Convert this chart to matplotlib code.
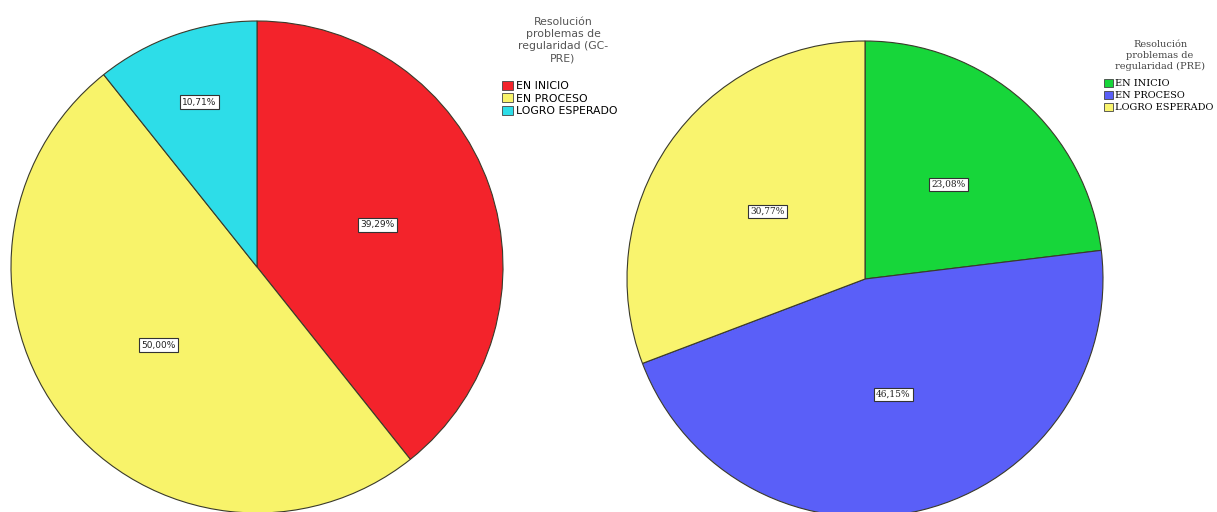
import numpy as np
import matplotlib
matplotlib.use('Agg')
from matplotlib import pyplot as plt
from matplotlib.patches import Patch

# DATA
categories_gc = ['EN INICIO', 'EN PROCESO', 'LOGRO ESPERADO']
values_gc = [39.29, 50.00, 10.71]
colors_gc = ['#f3232b', '#f8f36a', '#2ddde8']

categories_pre = ['EN INICIO', 'EN PROCESO', 'LOGRO ESPERADO']
values_pre = [23.08, 46.15, 30.77]
colors_pre = ['#17d63a', '#5a5ff8', '#f9f46e']

title_gc = 'Resolución\nproblemas de\nregularidad (GC-\nPRE)'
title_pre = 'Resolución\nproblemas de\nregularidad (PRE)'

W, H = 1217, 512
fig = plt.figure(figsize=(W / 100, H / 100), dpi=100)


def draw_pie(ax, values, colors, label_dist, family, size):
    wedges, _ = ax.pie(values, colors=colors, startangle=90, counterclock=False,
                       wedgeprops=dict(edgecolor='#3a3a2a', linewidth=0.8))
    for w, v, d in zip(wedges, values, label_dist):
        ang = np.deg2rad((w.theta1 + w.theta2) / 2)
        ax.text(d * np.cos(ang), d * np.sin(ang),
                '{:.2f}%'.format(v).replace('.', ','),
                ha='center', va='center', fontsize=size, family=family,
                color='#222222',
                bbox=dict(boxstyle='square,pad=0.25', facecolor='white',
                          edgecolor='#333333', linewidth=0.8))
    ax.set_xlim(-1, 1)
    ax.set_ylim(-1, 1)
    ax.set_aspect('auto')
    ax.axis('off')


def axes_for(cx, cy, r):
    # pixel centre / radius -> figure fraction
    return fig.add_axes([(cx - r) / W, (H - cy - r) / H, 2 * r / W, 2 * r / H])


# LEFT PIE
ax1 = axes_for(257, 267, 246)
draw_pie(ax1, values_gc, colors_gc, [0.52, 0.51, 0.71], 'DejaVu Sans', 6.5)

# RIGHT PIE
ax2 = axes_for(865, 279, 238)
draw_pie(ax2, values_pre, colors_pre, [0.53, 0.50, 0.50], 'DejaVu Serif', 6.5)

# LEGENDS (title drawn separately so the gap to the entries matches)
fig.text(563 / W, 1 - 17 / H, title_gc, ha='center', va='top', fontsize=7.8,
         family='DejaVu Sans', color='#555555', linespacing=1.28)
h1 = [Patch(facecolor=c, edgecolor='#444444', linewidth=0.6) for c in colors_gc]
leg1 = fig.legend(h1, categories_gc, loc='upper left',
                  bbox_to_anchor=(502 / W, 1 - 81 / H), frameon=False,
                  prop=dict(family='DejaVu Sans', size=7.8),
                  handlelength=1.0, handleheight=0.9, handletextpad=0.25,
                  labelspacing=0.2, borderpad=0, borderaxespad=0)

fig.text(1160 / W, 1 - 40 / H, title_pre, ha='center', va='top', fontsize=7,
         family='DejaVu Serif', color='#444444', linespacing=1.3)
h2 = [Patch(facecolor=c, edgecolor='#444444', linewidth=0.6) for c in colors_pre]
leg2 = fig.legend(h2, categories_pre, loc='upper left',
                  bbox_to_anchor=(1104 / W, 1 - 79 / H), frameon=False,
                  prop=dict(family='DejaVu Serif', size=7),
                  handlelength=0.9, handleheight=0.9, handletextpad=0.25,
                  labelspacing=0.25, borderpad=0, borderaxespad=0)

fig.savefig('out.png', dpi=100, facecolor='white')
